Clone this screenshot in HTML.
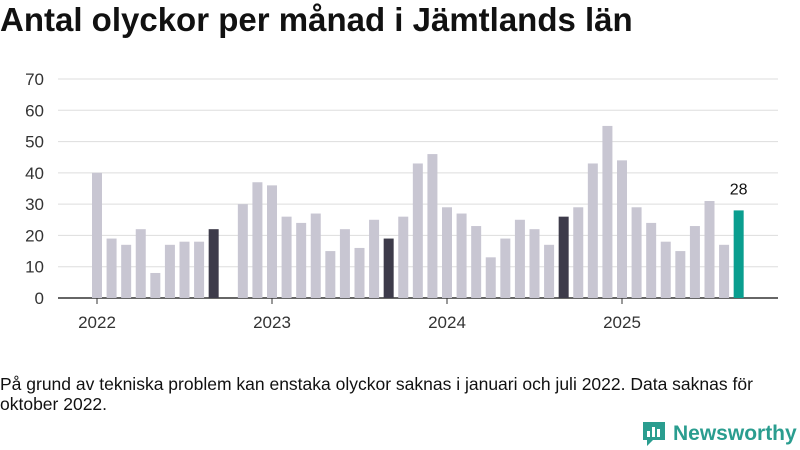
<!DOCTYPE html>
<html><head><meta charset="utf-8"><style>
body{margin:0;background:#fff;font-family:"Liberation Sans","DejaVu Sans",sans-serif;}
#wrap{position:relative;width:800px;height:450px;overflow:hidden;}
h1{position:absolute;left:0;top:1px;margin:0;font-size:33px;font-weight:bold;color:#111;letter-spacing:0;}
#note{position:absolute;left:0;top:374px;width:800px;font-size:17.5px;line-height:20px;color:#111;white-space:nowrap;}
#logo{position:absolute;left:641px;top:420px;display:flex;align-items:center;font-size:21px;color:#2a9d8f;font-weight:bold;}
</style></head><body>
<div id="wrap">
<h1>Antal olyckor per månad i Jämtlands län</h1>
<svg id="chart" width="800" height="360" style="position:absolute;left:0;top:0"></svg>
<div id="note">På grund av tekniska problem kan enstaka olyckor saknas i januari och juli 2022. Data saknas för<br>oktober 2022.</div>
<div id="logo">
<svg width="26" height="28" viewBox="0 0 26 28"><path d="M2 2h22v18H12l-6 6v-6H2z" fill="#2a9d8f"/><rect x="6" y="11" width="3" height="6" fill="#fff"/><rect x="11" y="7" width="3" height="10" fill="#fff"/><rect x="16" y="9" width="3" height="8" fill="#fff"/></svg>
<span style="margin-left:6px">Newsworthy</span></div>
</div>
<script>
const months = [];
for (let y = 2022; y <= 2025; y++) for (let m = 1; m <= 12; m++) if (!(y === 2025 && m > 9)) months.push(y + '-' + m);
const values = [40,19,17,22,8,17,18,18,22,null,30,37,
36,26,24,27,15,22,16,25,19,26,43,46,
29,27,23,13,19,25,22,17,26,29,43,55,
44,29,24,18,15,23,31,17,28];
const yTicks = [0,10,20,30,40,50,60,70];
const yearLabels = ['2022','2023','2024','2025'];
const NS = 'http://www.w3.org/2000/svg';
const svg = document.getElementById('chart');
const y0 = 298, yPer = (298 - 79) / 70;
const yScale = v => y0 - v * yPer;
const xScale = i => 97 + i * (175 / 12);
function mk(tag, attrs) { const e = document.createElementNS(NS, tag); for (const k in attrs) e.setAttribute(k, attrs[k]); svg.appendChild(e); return e; }
yTicks.forEach(t => {
  const l = mk('line', {x1: 58, x2: 778, y1: yScale(t), y2: yScale(t), stroke: t === 0 ? '#333' : '#ddd', 'stroke-width': t === 0 ? 1.5 : 1});
  
  
  const tx = mk('text', {x: 44, y: yScale(t) + 6, 'text-anchor': 'end', 'font-size': 17, fill: '#333', 'font-family': 'Liberation Sans, DejaVu Sans, sans-serif'});
  tx.textContent = t;
  
  
});
values.forEach((v, i) => {
  if (v === null) return;
  const m = i % 12;
  const last = i === values.length - 1;
  const b = mk('rect', {x: xScale(i) - 5, y: yScale(v), width: 10, height: v * yPer, fill: last ? '#0a9e8f' : (m === 8 ? '#3d3b4a' : '#c8c6d2')});
  
  
  if (last) {
    const t = mk('text', {x: xScale(i), y: yScale(v) - 16, 'text-anchor': 'middle', 'font-size': 16, fill: '#111', 'font-family': 'Liberation Sans, DejaVu Sans, sans-serif'});
    t.textContent = v;
    
    
  }
});
yearLabels.forEach((yl, k) => {
  const x = xScale(k * 12);
  const tk = mk('line', {x1: x, x2: x, y1: 298, y2: 304, stroke: '#333', 'stroke-width': 1});
  
  
  const t = mk('text', {x: x, y: 328, 'text-anchor': 'middle', 'font-size': 17, fill: '#333', 'font-family': 'Liberation Sans, DejaVu Sans, sans-serif'});
  t.textContent = yl;
  
  
});
</script>
</body></html>
